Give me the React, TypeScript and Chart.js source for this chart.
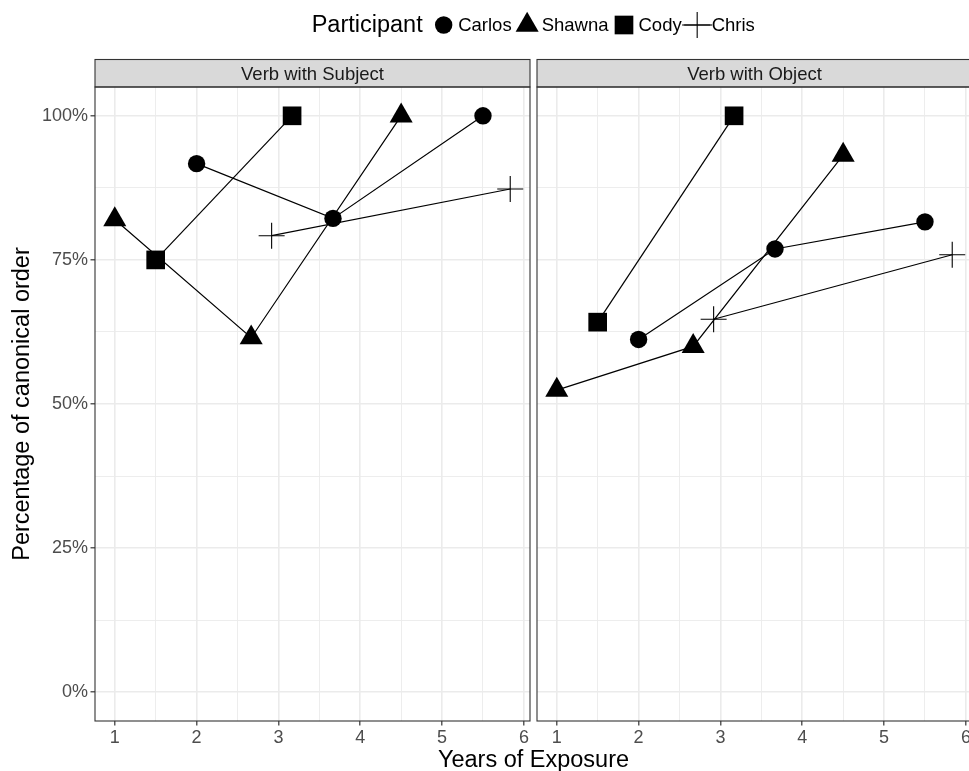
import React, { useEffect, useRef } from 'react';
import { Chart, registerables } from 'chart.js';
import { drawPoint } from 'chart.js/helpers';

Chart.register(...registerables);

const FONT = '"Liberation Sans", Arial, Helvetica, sans-serif';

// Labels
const participants = ['Carlos', 'Shawna', 'Cody', 'Chris'];
const panelTitles = ['Verb with Subject', 'Verb with Object'];
const legendTitle = 'Participant';
const xTitle = 'Years of Exposure';
const yTitle = 'Percentage of canonical order';

// Years of exposure at each recording, per participant
const carlosYears = [2, 3.667, 5.5];
const shawnaYears = [1, 2.667, 4.5];
const codyYears = [1.5, 3.167];
const chrisYears = [2.917, 5.833];

// Percentage of canonical order: verb with subject
const carlosSubject = [91.7, 82.2, 100];
const shawnaSubject = [82, 61.5, 100];
const codySubject = [75, 100];
const chrisSubject = [79.2, 87.3];

// Percentage of canonical order: verb with object
const carlosObject = [61.2, 76.9, 81.6];
const shawnaObject = [52.4, 60, 93.2];
const codyObject = [64.2, 100];
const chrisObject = [64.7, 75.9];

// Axis breaks
const yBreaks = [0, 25, 50, 75, 100];
const yMinorBreaks = [12.5, 37.5, 62.5, 87.5];
const xBreaks = [1, 2, 3, 4, 5, 6];
const xMinorBreaks = [1.5, 2.5, 3.5, 4.5, 5.5];

const years = [carlosYears, shawnaYears, codyYears, chrisYears];
const subjectValues = [carlosSubject, shawnaSubject, codySubject, chrisSubject];
const objectValues = [carlosObject, shawnaObject, codyObject, chrisObject];

// Marker per participant
const markers = [
  { pointStyle: 'circle', radius: 8.7, filled: true },
  { pointStyle: 'triangle', radius: 13.3, filled: true },
  { pointStyle: 'rect', radius: 13.2, filled: true },
  { pointStyle: 'cross', radius: 13, filled: false },
];

// Layout constants (px)
const W = 969;
const H = 771;
const PANEL_LEFT = 95;
const PANEL_W = 435;
const PANEL_GAP = 7;
const PANEL_TOP = 87;
const STRIP_TOP = 59.5;
const X_AXIS_H = 50;
const RIGHT_CANVAS_W = 445;

// ggplot-style 5% expansion of the data range on x, fixed 0–100% on y
const allYears = years.flat();
const xLo = Math.min(...allYears);
const xHi = Math.max(...allYears);
const xPad = (xHi - xLo) * 0.05;
const X_MIN = xLo - xPad;
const X_MAX = xHi + xPad;
const Y_MIN = -5;
const Y_MAX = 105;

const GRID = '#EBEBEB';
const DARK = '#333333';

function makeDatasets(values: number[][]) {
  return participants.map((name, i) => ({
    label: name,
    data: years[i].map((x, j) => ({ x, y: values[i][j] })),
    showLine: true,
    tension: 0,
    borderColor: '#000',
    borderWidth: 1.2,
    backgroundColor: '#000',
    pointStyle: markers[i].pointStyle,
    pointRadius: markers[i].radius,
    pointHoverRadius: markers[i].radius,
    pointBackgroundColor: '#000',
    pointBorderColor: '#000',
    pointBorderWidth: markers[i].filled ? 0 : 1.1,
  }));
}

const panelFrame = {
  id: 'panelFrame',
  afterDraw(chart: any, _args: any, opts: any) {
    const { ctx, chartArea: a } = chart;
    const w = a.right - a.left;
    ctx.save();
    ctx.fillStyle = '#D9D9D9';
    ctx.fillRect(a.left, STRIP_TOP, w, a.top - STRIP_TOP);
    ctx.strokeStyle = DARK;
    ctx.lineWidth = 1.1;
    ctx.strokeRect(a.left, STRIP_TOP, w, a.top - STRIP_TOP);
    ctx.strokeRect(a.left, a.top, w, a.bottom - a.top);
    ctx.fillStyle = '#1A1A1A';
    ctx.font = `18.5px ${FONT}`;
    ctx.textAlign = 'center';
    ctx.textBaseline = 'alphabetic';
    ctx.fillText(opts.text, (a.left + a.right) / 2, 80);
    ctx.restore();
  },
};

const sharedLabels = {
  id: 'sharedLabels',
  afterDraw(chart: any) {
    const { ctx, chartArea: a } = chart;
    const centre = a.left + (2 * (a.right - a.left) + PANEL_GAP) / 2;
    ctx.save();
    ctx.fillStyle = '#000';
    ctx.strokeStyle = '#000';
    ctx.textBaseline = 'alphabetic';

    // x-axis title spanning both panels
    ctx.font = `23.5px ${FONT}`;
    ctx.textAlign = 'center';
    ctx.fillText(xTitle, centre, 766.5);

    // legend row
    ctx.textAlign = 'left';
    const titleW = ctx.measureText(legendTitle).width;
    ctx.font = `18.5px ${FONT}`;
    const textW = participants.map((p) => ctx.measureText(p).width);
    const key = 30;
    const gap = 6;
    const total = titleW + gap + participants.length * key + textW.reduce((s, v) => s + v, 0);
    let x = centre - total / 2;
    const cy = 25;
    ctx.font = `23.5px ${FONT}`;
    ctx.fillText(legendTitle, x, 31.5);
    x += titleW + gap;
    ctx.font = `18.5px ${FONT}`;
    participants.forEach((p, i) => {
      const m = markers[i];
      if (!m.filled) {
        ctx.lineWidth = 1.1;
        ctx.beginPath();
        ctx.moveTo(x, cy);
        ctx.lineTo(x + key, cy);
        ctx.stroke();
      }
      ctx.lineWidth = m.filled ? 0 : 1.1;
      drawPoint(ctx, { pointStyle: m.pointStyle, radius: m.radius, rotation: 0, borderWidth: m.filled ? 0 : 1.1 } as any, x + key / 2, cy);
      x += key;
      ctx.fillStyle = '#000';
      ctx.fillText(p, x - 0.5, 31);
      x += textW[i];
    });
    ctx.restore();
  },
};

function isMajorX(c: any) {
  return c.tick && Number.isInteger(c.tick.value);
}
function isMajorY(c: any) {
  return c.tick && c.tick.value % 25 === 0;
}

function makeConfig(panel: number): any {
  const left = panel === 0;
  const values = left ? subjectValues : objectValues;
  return {
    type: 'scatter',
    data: { datasets: makeDatasets(values) },
    plugins: left ? [panelFrame, sharedLabels] : [panelFrame],
    options: {
      animation: false,
      responsive: false,
      events: [],
      layout: {
        autoPadding: false,
        padding: left
          ? { top: PANEL_TOP, right: W - PANEL_LEFT - PANEL_W, bottom: 0, left: 0 }
          : { top: PANEL_TOP, right: RIGHT_CANVAS_W - 4 - PANEL_W, bottom: 0, left: 0 },
      },
      plugins: {
        legend: { display: false },
        tooltip: { enabled: false },
        title: { display: false },
        panelFrame: { text: panelTitles[panel] },
      },
      scales: {
        x: {
          type: 'linear',
          min: X_MIN,
          max: X_MAX,
          afterBuildTicks: (s: any) => {
            s.ticks = [...xBreaks, ...xMinorBreaks].sort((p, q) => p - q).map((v) => ({ value: v }));
          },
          afterFit: (s: any) => {
            s.height = X_AXIS_H;
          },
          ticks: {
            autoSkip: false,
            maxRotation: 0,
            minRotation: 0,
            padding: 2,
            color: '#4D4D4D',
            font: { family: FONT, size: 18 },
            callback: (v: any) => (Number.isInteger(v) ? String(v) : ''),
          },
          grid: {
            color: GRID,
            lineWidth: (c: any) => (isMajorX(c) ? 1.6 : 0.9),
            tickColor: (c: any) => (isMajorX(c) ? DARK : 'rgba(0,0,0,0)'),
            tickWidth: 1.2,
            tickLength: 4.5,
            drawTicks: true,
          },
          border: { display: false },
          title: { display: false },
        },
        y: {
          type: 'linear',
          min: Y_MIN,
          max: Y_MAX,
          afterBuildTicks: (s: any) => {
            s.ticks = [...yBreaks, ...yMinorBreaks].sort((p, q) => p - q).map((v) => ({ value: v }));
          },
          afterFit: (s: any) => {
            s.width = left ? PANEL_LEFT : 4;
          },
          ticks: {
            display: left,
            autoSkip: false,
            padding: 2.5,
            color: '#4D4D4D',
            font: { family: FONT, size: 18 },
            callback: (v: any) => (v % 25 === 0 ? `${v}%` : ''),
          },
          grid: {
            color: GRID,
            lineWidth: (c: any) => (isMajorY(c) ? 1.6 : 0.9),
            tickColor: (c: any) => (isMajorY(c) ? DARK : 'rgba(0,0,0,0)'),
            tickWidth: 1.2,
            tickLength: 4.5,
            drawTicks: left,
          },
          border: { display: false },
          title: {
            display: left,
            text: yTitle,
            color: '#000',
            font: { family: FONT, size: 23.5 },
            padding: { top: 8, bottom: 0 },
          },
        },
      },
    },
  };
}

export default function App() {
  const leftRef = useRef<HTMLCanvasElement>(null);
  const rightRef = useRef<HTMLCanvasElement>(null);

  useEffect(() => {
    const a = new Chart(leftRef.current as HTMLCanvasElement, makeConfig(0));
    const b = new Chart(rightRef.current as HTMLCanvasElement, makeConfig(1));
    return () => {
      a.destroy();
      b.destroy();
    };
  }, []);

  const rightCanvasLeft = PANEL_LEFT + PANEL_W + PANEL_GAP - 4;

  return (
    <div
      style={{
        position: 'absolute',
        left: 0,
        top: 0,
        width: W,
        height: H,
        overflow: 'hidden',
        background: '#fff',
      }}
    >
      <canvas
        ref={leftRef}
        width={W}
        height={H}
        style={{ position: 'absolute', left: 0, top: 0, width: W, height: H, display: 'block' }}
      />
      <canvas
        ref={rightRef}
        width={RIGHT_CANVAS_W}
        height={H}
        style={{
          position: 'absolute',
          left: rightCanvasLeft,
          top: 0,
          width: RIGHT_CANVAS_W,
          height: H,
          display: 'block',
        }}
      />
    </div>
  );
}
